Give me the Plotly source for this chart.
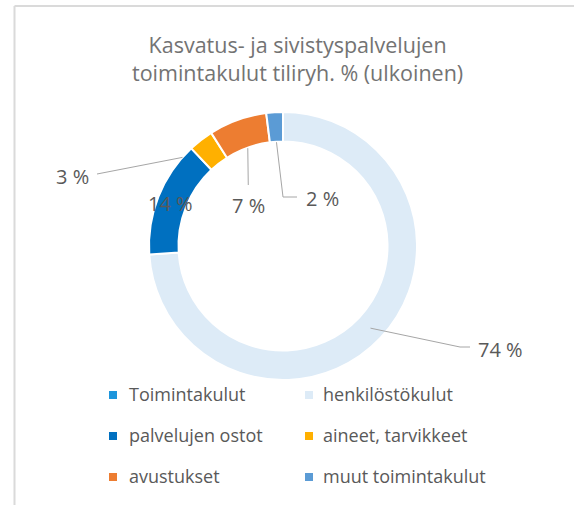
import math
import plotly.graph_objects as go

# ---- data ----
categories = ["Toimintakulut", "henkilöstökulut", "palvelujen ostot",
              "aineet, tarvikkeet", "avustukset", "muut toimintakulut"]
values = [0, 74, 14, 3, 7, 2]
colors = ["#1E96DC", "#DDEBF7", "#0070C0", "#FFB000", "#ED7D31", "#5B9BD5"]
title_text = "Kasvatus- ja sivistyspalvelujen<br>toimintakulut tiliryh. % (ulkoinen)"

# ---- geometry (pixels) ----
W, H = 574, 505
CX, CY, R = 283, 246, 134
HOLE = 0.78
TEXT = "#595959"
LEAD = "#A6A6A6"
FONT = "Open Sans"


def px(x):
    return x / W


def py(y):
    return 1 - y / H


total = sum(values)
starts, mids = [], []
acc = 0
for v in values:
    starts.append(acc * 360 / total)
    mids.append((acc + v / 2) * 360 / total)
    acc += v


def ring(angle, r):
    a = math.radians(angle)
    return CX + r * math.sin(a), CY - r * math.cos(a)


fig = go.Figure()
fig.add_trace(go.Pie(
    labels=categories, values=values, sort=False, direction="clockwise",
    rotation=0, hole=HOLE, textinfo="none", hoverinfo="label+percent",
    marker=dict(colors=colors, line=dict(color="white", width=2)),
    showlegend=False,
    domain=dict(x=[px(CX - R), px(CX + R)], y=[py(CY + R), py(CY - R)]),
))

shapes = []
annotations = []


def path_shape(points):
    d = "M " + " L ".join(f"{px(x)},{py(y)}" for x, y in points)
    return dict(type="path", xref="paper", yref="paper", path=d,
                line=dict(color=LEAD, width=1))


def label(text, x, y, xanchor):
    annotations.append(dict(text=text, x=px(x), y=py(y), xref="paper", yref="paper",
                            xanchor=xanchor, yanchor="middle", showarrow=False,
                            font=dict(family=FONT, size=20, color=TEXT)))


lbl = [f"{v} %" for v in values]

# henkilöstökulut
a = ring(mids[1], 120)
shapes.append(path_shape([a, (460, 347), (470, 347)]))
label(lbl[1], 476, 349, "left")
# palvelujen ostot (inside ring)
a = ring(mids[2], 121)
label(lbl[2], a[0], a[1] + 2, "center")
# aineet, tarvikkeet
a = ring(starts[3] - 5.4, R)
shapes.append(path_shape([a, (97, 174)]))
label(lbl[3], 91, 176, "right")
# avustukset
a = ring(mids[4], 104)
shapes.append(path_shape([a, (a[0] + 0.5, 185)]))
label(lbl[4], 248, 205, "center")
# muut toimintakulut
a = ring(mids[5], 104)
shapes.append(path_shape([a, (283, 197), (297, 197)]))
label(lbl[5], 304, 198, "left")

# ---- manual legend ----
col_sq = [113, 309]
col_tx = [127, 321]
rows = [395, 436, 477]
for i, (cat, col) in enumerate(zip(categories, colors)):
    r, c = divmod(i, 2)
    x, y = col_sq[c], rows[r]
    shapes.append(dict(type="rect", xref="paper", yref="paper",
                       x0=px(x - 4), x1=px(x + 4), y0=py(y + 4), y1=py(y - 4),
                       fillcolor=col, line=dict(width=0)))
    annotations.append(dict(text=cat, x=px(col_tx[c]), y=py(y - 1), xref="paper", yref="paper",
                            xanchor="left", yanchor="middle", showarrow=False,
                            font=dict(family=FONT, size=18, color=TEXT)))

# title
annotations.append(dict(text=title_text, x=px(297), y=py(59), xref="paper", yref="paper",
                        xanchor="center", yanchor="middle", showarrow=False,
                        font=dict(family=FONT, size=21.5, color="#737373")))

# chart border (top and left visible)
shapes.append(dict(type="line", xref="paper", yref="paper", x0=px(14.5), x1=1.0,
                   y0=py(6), y1=py(6), line=dict(color="#DADADA", width=2)))
shapes.append(dict(type="line", xref="paper", yref="paper", x0=px(14.5), x1=px(14.5),
                   y0=py(6), y1=0.0, line=dict(color="#DADADA", width=2)))

fig.update_layout(
    width=W, height=H, margin=dict(l=0, r=0, t=0, b=0),
    paper_bgcolor="white", plot_bgcolor="white",
    shapes=shapes, annotations=annotations,
    font=dict(family=FONT, color=TEXT),
)

fig.write_html("out.html",
               config={"displayModeBar": False},
               post_script="document.body.style.margin='0';"
                           "document.body.style.overflow='hidden';")
